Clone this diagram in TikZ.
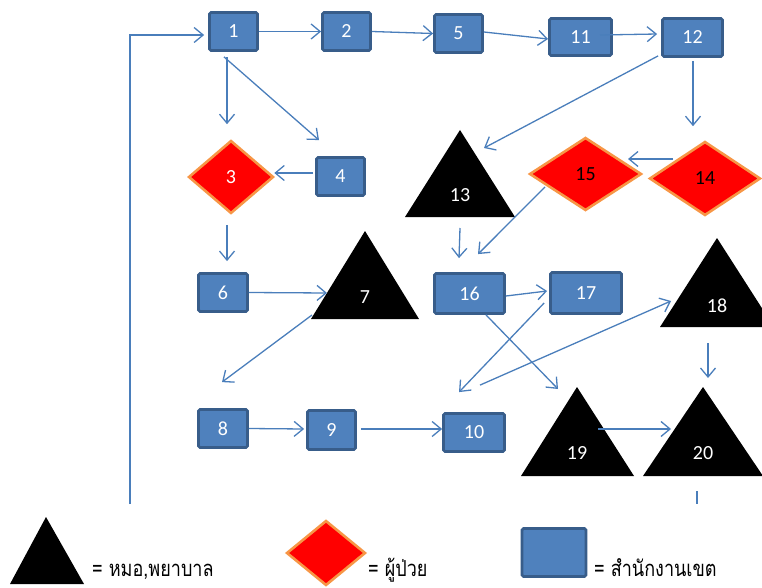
\documentclass[tikz,border=0pt]{standalone}
\usepackage{fontspec}
\setmainfont{Carlito}
\newfontfamily\thaifont[Script=Thai]{Loma}
\usetikzlibrary{shapes.geometric,arrows.meta}
\definecolor{boxfill}{HTML}{4F81BD}
\definecolor{boxline}{HTML}{385D8A}
\definecolor{dmdline}{HTML}{F79646}
\definecolor{arrowc}{HTML}{4A7EBB}
\newcommand\numsize{\fontsize{20}{24}\selectfont}
\newcommand\thaisize{\thaifont\fontsize{22}{26}\selectfont}
\newcommand\thaitext[1]{\scalebox{0.82}[1]{#1}}
\begin{document}
\begin{tikzpicture}[x=1pt,y=-1pt,
  box/.style={draw=boxline, fill=boxfill, line width=2.8pt, rounded corners=1.5pt,
    text=white, inner sep=0pt, font=\numsize},
  dmd/.style={diamond, draw=dmdline, fill=red, line width=2.6pt, inner sep=0pt, font=\numsize},
  lbl/.style={text=white, inner sep=0pt, font=\numsize},
  tri/.style={fill=black},
  conn/.style={draw=arrowc, line width=1.3pt, -{Straight Barb[length=9pt,width=15pt]}},
  plain/.style={draw=arrowc, line width=1.3pt},
  legtext/.style={anchor=base west, inner sep=0pt, font=\thaisize}]
\useasboundingbox (0,0) rectangle (762,588);

% blue boxes
\node[box, minimum width=48pt, minimum height=38pt] (n1) at (233.5,31.5) {1};
\node[box, minimum width=48pt, minimum height=38pt] (n2) at (346.5,31.5) {2};
\node[box, minimum width=48pt, minimum height=38pt] (n5) at (458.5,33.5) {5};
\node[box, minimum width=62pt, minimum height=37pt] (n11) at (580.5,37) {11};
\node[box, minimum width=60pt, minimum height=38pt] (n12) at (692.5,37.5) {12};
\node[box, minimum width=48pt, minimum height=38pt] (n4) at (340.5,176.5) {4};
\node[box, minimum width=49pt, minimum height=38pt] (n6) at (223,292.5) {6};
\node[box, minimum width=49pt, minimum height=38pt] (n8) at (223,428.5) {8};
\node[box, minimum width=48pt, minimum height=39pt] (n9) at (331.5,430) {9};
\node[box, minimum width=61pt, minimum height=38pt] (n10) at (474,432.5) {10};
\node[box, minimum width=70pt, minimum height=40pt] (n16) at (469.5,293.5) {16};
\node[box, minimum width=71pt, minimum height=41pt] (n17) at (586,293) {17};

% red diamonds
\node[dmd, minimum width=85pt, minimum height=73pt, text=white] (d3) at (231,177) {3};
\node[dmd, minimum width=112pt, minimum height=73pt, text=black] (d15) at (585.5,174) {15};
\node[dmd, minimum width=111pt, minimum height=74pt, text=black] (d14) at (705,178.5) {14};

% black triangles
\fill[tri] (460,130) -- (515,217) -- (405,217) -- cycle;
\node[lbl] (t13) at (460,195) {13};
\fill[tri] (365,231) -- (419,319) -- (311,319) -- cycle;
\node[lbl] (t7) at (365,297) {7};
\fill[tri] (717,238) -- (774,327) -- (660,327) -- cycle;
\node[lbl] (t18) at (717,306) {18};
\fill[tri] (577,387) -- (634,476) -- (521,476) -- cycle;
\node[lbl] (t19) at (577,453) {19};
\fill[tri] (703,387) -- (763,476) -- (643,476) -- cycle;
\node[lbl] (t20) at (703,453) {20};

% connectors
\coordinate (fb) at (130,504);
\draw[conn] (fb) |- ([shift={(-4,3.5)}]n1.west);
\draw[conn] (n1.east) -- (n2.west);
\draw[conn] (n2.east) -- (n5.west);
\draw[conn] ([yshift=1.5]n5.east) -- ([yshift=-2]n11.west);
\draw[conn] ([shift={(19.5,-2)}]n11.center) -- ([shift={(-4,-3.5)}]n12.west);
\draw[conn] ([shift={(-3,-2)}]n12.south west) -- ([shift={(24,-47)}]t13.center);
\draw[conn] ([shift={(0.5,3)}]n12.south) -- ([shift={(-12,-14)}]d14.north);
\draw[conn] ([shift={(-32,-19.5)}]d14.center) -- ([shift={(42.5,-15)}]d15.center);
\draw[conn] ([shift={(-40.5,13)}]d15.center) -- ([shift={(8.5,-18)}]n16.north);
\draw[conn] ([shift={(0,33)}]t13.center) -- ([shift={(-10.5,-14)}]n16.north);
\draw[conn] ([shift={(-6.5,5.5)}]n1.south) -- ([shift={(-4,-15)}]d3.north);
\draw[conn] ([shift={(-9.5,5)}]n1.south) -- ([shift={(-21.5,-16)}]n4.north);
\draw[conn] ([shift={(-2,-3.5)}]n4.west) -- ([shift={(-0.5,-4)}]d3.east);
\draw[conn] ([shift={(-4,10)}]d3.south) -- ([shift={(4,-11)}]n6.north);
\draw[conn] (n6.east) -- ([shift={(-38,-4)}]t7.center);
\draw[conn] ([shift={(-53,18)}]t7.center) -- ([shift={(-1,-26)}]n8.north);
\draw[conn] (n8.east) -- ([shift={(-2,-1)}]n9.west);
\draw[conn] ([shift={(4,-1)}]n9.east) -- ([shift={(0,-3.5)}]n10.west);
\draw[conn] ([yshift=-2.5]n16.east) -- ([shift={(-2,-2)}]n17.west);
\draw[conn] ([shift={(16.5,0)}]n16.south) -- ([shift={(-19,-64)}]t19.center);
\draw[conn] ([shift={(-5,10)}]n17.west) -- ([shift={(-15,-20)}]n10.north);
\draw[conn] ([shift={(6,-27)}]n10.north) -- ([shift={(-46,-5)}]t18.center);
\draw[conn] ([shift={(-9,37)}]t18.center) -- ([shift={(5,-75)}]t20.center);
\draw[conn] ([shift={(21,-24)}]t19.center) -- ([shift={(-32,-24)}]t20.center);
\coordinate (cutA) at (697,491);
\coordinate (cutB) at (697,504);
\draw[plain] (cutA) -- (cutB);

% legend
\fill[tri] (46,517) -- (84,584) -- (10,584) -- cycle;
\node[legtext] (lg1) at (92,576) {\thaitext{= หมอ,พยาบาล}};
\node[dmd, minimum width=79pt, minimum height=65pt] (lgd) at (326,553) {};
\node[legtext] (lg2) at (368,576) {\thaitext{= ผู้ป่วย}};
\node[box, minimum width=64pt, minimum height=48pt] (lgb) at (554,552.5) {};
\node[legtext] (lg3) at (594,576) {\thaitext{= สำนักงานเขต}};
\end{tikzpicture}
\end{document}
